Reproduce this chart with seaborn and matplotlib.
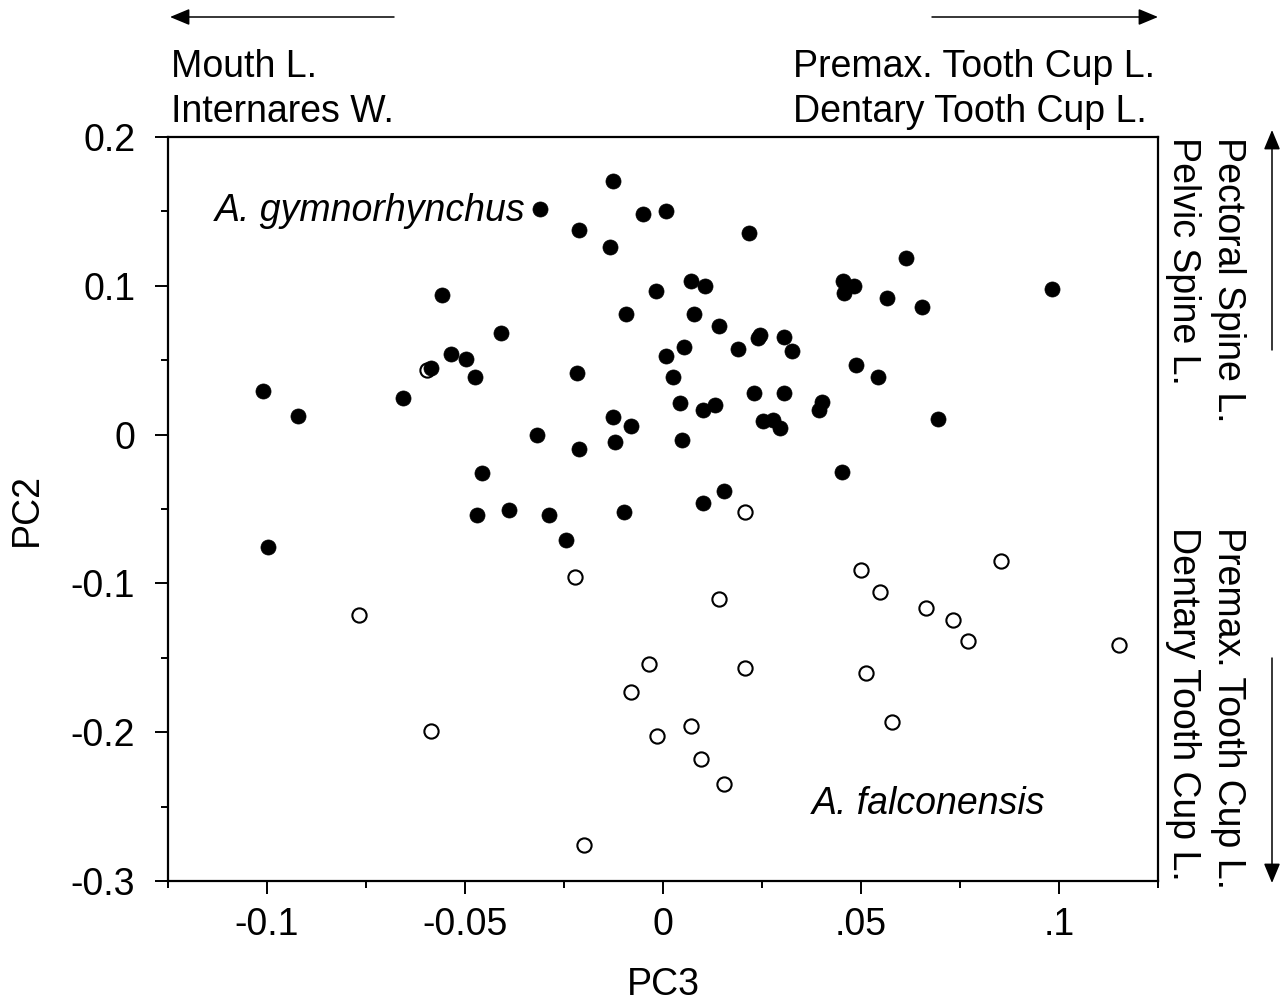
import numpy as np
import pandas as pd
import seaborn as sns
import matplotlib.pyplot as plt
from matplotlib.ticker import FixedLocator, MultipleLocator

# A. gymnorhynchus (filled)
gym_pc3 = [-0.0127, -0.0311, -0.0051, 0.0008, -0.0211, 0.0218, -0.0134, 0.0613,
           0.0071, 0.0106, 0.0454, 0.0482, 0.0458, -0.0018, 0.0565, 0.0982,
           0.0653, -0.0558, -0.0093, 0.0078, -0.0410, 0.0141, 0.0245, 0.0239,
           0.0306, 0.0325, 0.0054, 0.0008, 0.0189, -0.0535, -0.0498, -0.0586,
           -0.0216, 0.0025, -0.0475, 0.0488, 0.0542, -0.1009, -0.0657, 0.0230,
           0.0306, 0.0043, 0.0100, 0.0131, 0.0401, 0.0395, 0.0694, -0.0921,
           -0.0127, -0.0081, 0.0253, 0.0277, 0.0295, -0.0317, -0.0211, -0.0122,
           0.0049, 0.0453, -0.0458, 0.0155, 0.0100, -0.0469, -0.0388, -0.0287,
           -0.0098, -0.0246, -0.0997]
gym_pc2 = [0.1703, 0.1514, 0.1480, 0.1501, 0.1373, 0.1357, 0.1261, 0.1184,
           0.1030, 0.0996, 0.1032, 0.0996, 0.0949, 0.0966, 0.0917, 0.0980,
           0.0857, 0.0937, 0.0810, 0.0810, 0.0684, 0.0729, 0.0668, 0.0650,
           0.0653, 0.0561, 0.0590, 0.0527, 0.0574, 0.0540, 0.0509, 0.0446,
           0.0417, 0.0388, 0.0388, 0.0466, 0.0388, 0.0293, 0.0244, 0.0280,
           0.0278, 0.0215, 0.0166, 0.0199, 0.0222, 0.0166, 0.0108, 0.0123,
           0.0121, 0.0056, 0.0092, 0.0101, 0.0042, 0.0000, -0.0097, -0.0052,
           -0.0038, -0.0254, -0.0256, -0.0380, -0.0458, -0.0538, -0.0505, -0.0538,
           -0.0521, -0.0709, -0.0756]

# A. falconensis (open)
fal_pc3 = [-0.0596, -0.0768, -0.0222, 0.0206, 0.0141, 0.0500, 0.0547, 0.0665,
           0.0733, 0.0771, 0.0854, 0.1152, -0.0035, -0.0082, 0.0206, 0.0513,
           0.0578, 0.0071, -0.0015, 0.0096, 0.0154, -0.0199, -0.0586]
fal_pc2 = [0.0433, -0.1210, -0.0960, -0.0523, -0.1102, -0.0913, -0.1057, -0.1164,
           -0.1243, -0.1384, -0.0848, -0.1413, -0.1541, -0.1727, -0.1568, -0.1600,
           -0.1929, -0.1961, -0.2024, -0.2183, -0.2349, -0.2759, -0.1995]

x_ticks = [-0.1, -0.05, 0, 0.05, 0.1]
x_tick_labels = ['-0.1', '-0.05', '0', '.05', '.1']
y_ticks = [0.2, 0.1, 0, -0.1, -0.2, -0.3]
y_tick_labels = ['0.2', '0.1', '0', '-0.1', '-0.2', '-0.3']

gym = pd.DataFrame({'PC3': gym_pc3, 'PC2': gym_pc2})
fal = pd.DataFrame({'PC3': fal_pc3, 'PC2': fal_pc2})

sns.set_style('ticks')
plt.rcParams['font.family'] = ['Liberation Sans', 'DejaVu Sans']
plt.rcParams['text.color'] = 'black'
plt.rcParams['axes.labelcolor'] = 'black'

FS = 27
W, H = 1287, 1002
fig = plt.figure(figsize=(W / 100, H / 100), dpi=100)
ax = fig.add_axes([168 / W, 1 - 881 / H, 990 / W, 744 / H])

sns.scatterplot(data=fal, x='PC3', y='PC2', ax=ax, marker='o', s=105,
                facecolor='white', edgecolor='black', linewidth=1.5, zorder=2)
sns.scatterplot(data=gym, x='PC3', y='PC2', ax=ax, marker='o', s=118,
                color='black', edgecolor='black', linewidth=0.5, zorder=3)

ax.set_xlim(-0.125, 0.125)
ax.set_ylim(-0.3, 0.2)
ax.xaxis.set_major_locator(FixedLocator(x_ticks))
ax.set_xticklabels(x_tick_labels)
ax.xaxis.set_minor_locator(MultipleLocator(0.025))
ax.yaxis.set_major_locator(FixedLocator(y_ticks))
ax.set_yticklabels(y_tick_labels)
ax.yaxis.set_minor_locator(MultipleLocator(0.05))

ax.tick_params(which='major', direction='out', length=9.5, width=1.4,
               labelsize=FS, color='black', labelcolor='black')
ax.tick_params(axis='x', which='major', pad=9)
ax.tick_params(axis='y', which='major', pad=14)
ax.tick_params(which='minor', direction='out', length=4.8, width=1.4, color='black')
ax.tick_params(top=False, right=False, which='both')
for sp in ax.spines.values():
    sp.set_visible(True)
    sp.set_linewidth(1.6)
    sp.set_color('black')

ax.set_xlabel('PC3', fontsize=FS)
ax.set_ylabel('PC2', fontsize=FS)
ax.xaxis.set_label_coords(0.5, -0.115)
ax.yaxis.set_label_coords(-0.124, 0.5)

ax.text(-0.1131, 0.150, 'A. gymnorhynchus', fontsize=FS, style='italic',
        ha='left', va='center')
ax.text(0.0965, -0.248, 'A. falconensis', fontsize=FS, style='italic',
        ha='right', va='center')


def fpos(px, py):
    return (px / W, 1 - py / H)


arrow_kw = dict(arrowstyle='-|>,head_length=0.6,head_width=0.25', color='black',
                lw=1.1, mutation_scale=20, shrinkA=0, shrinkB=0)
for tail, tip in [((394, 17), (170, 17)), ((932, 17), (1158, 17)),
                  ((1272, 350), (1272, 130)), ((1272, 658), (1272, 883))]:
    ax.annotate('', xy=fpos(*tip), xycoords='figure fraction',
                xytext=fpos(*tail), textcoords='figure fraction',
                arrowprops=arrow_kw, annotation_clip=False)

for txt, px, py in [('Mouth L.', 171, 77), ('Internares W.', 171, 122),
                    ('Premax. Tooth Cup L.', 793, 77), ('Dentary Tooth Cup L.', 793, 122)]:
    fig.text(*fpos(px, py), txt, fontsize=FS, ha='left', va='baseline')

for txt, px, py in [('Pectoral Spine L.', 1218, 137), ('Pelvic Spine L.', 1173, 137),
                    ('Premax. Tooth Cup L.', 1218, 527), ('Dentary Tooth Cup L.', 1173, 527)]:
    fig.text(*fpos(px, py), txt, fontsize=FS, ha='left', va='baseline',
             rotation=-90, rotation_mode='anchor')

fig.savefig('out.png', dpi=100, facecolor='white')
